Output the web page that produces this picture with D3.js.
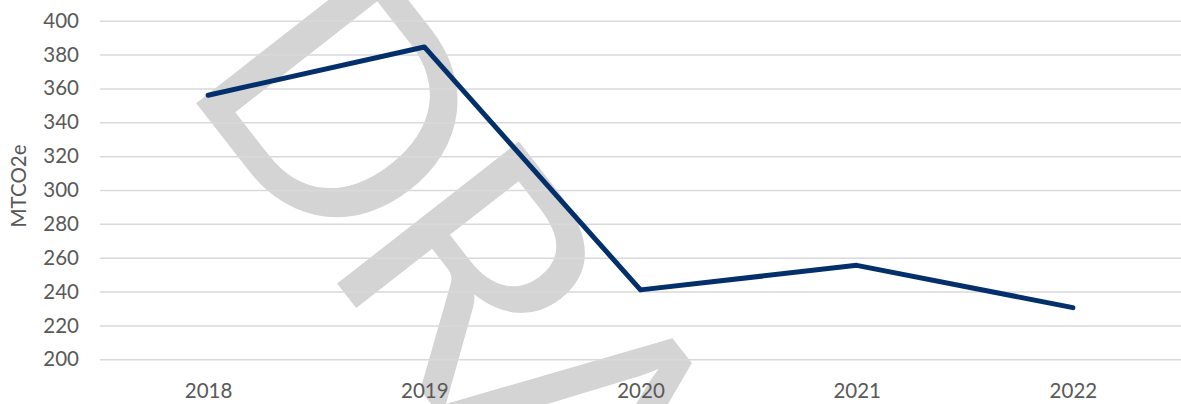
<!DOCTYPE html>
<html>
<head>
<meta charset="utf-8">
<script src="https://cdn.jsdelivr.net/npm/d3@7"></script>
<style>
  html, body { margin: 0; padding: 0; background: #ffffff; }
  svg { display: block; }
  text { font-family: Lato, "Open Sans", sans-serif; }
</style>
</head>
<body>
<svg id="chart" width="1181" height="404"></svg>
<script>
// Annual emissions, MTCO2e
const years = ["2018", "2019", "2020", "2021", "2022"];
const emissions = [356, 384.5, 241, 255.5, 230.5];
const yTicks = [200, 220, 240, 260, 280, 300, 320, 340, 360, 380, 400];
const yTitle = "MTCO2e";
const watermark = "DRAFT";

const W = 1181, H = 404;
const plot = { left: 100, right: 1181, top: 20.7, bottom: 359.3 };

const svg = d3.select("#chart");

const x = d3.scalePoint()
  .domain(years)
  .range([plot.left, plot.right])
  .padding(0.5);

const y = d3.scaleLinear()
  .domain([200, 400])
  .range([plot.bottom, plot.top]);

// Diagonal watermark behind the chart
svg.append("text")
  .attr("transform", "translate(178,80) rotate(52)")
  .attr("font-size", 322)
  .attr("letter-spacing", -16)
  .attr("fill", "#d4d4d4")
  .text(watermark);

// Horizontal gridlines
const yAxis = d3.axisLeft(y).tickValues(yTicks).tickSize(-(plot.right - plot.left)).tickPadding(21);
const gy = svg.append("g")
  .attr("transform", `translate(${plot.left},0)`)
  .call(yAxis);
gy.select(".domain").remove();
gy.selectAll(".tick line").attr("stroke", "#d9d9d9").attr("stroke-width", 1.5);
gy.selectAll(".tick text")
  .attr("fill", "#595959")
  .attr("font-size", 20.5)
  .attr("font-family", "Lato, sans-serif");

// Category labels
const xAxis = d3.axisBottom(x).tickSize(0).tickPadding(0);
const gx = svg.append("g")
  .attr("transform", `translate(0,${plot.bottom})`)
  .call(xAxis);
gx.select(".domain").remove();
gx.selectAll(".tick text")
  .attr("fill", "#595959")
  .attr("font-size", 20.5)
  .attr("font-family", "Lato, sans-serif")
  .attr("dy", null)
  .attr("y", 39);

// Axis title
svg.append("text")
  .attr("transform", `translate(26,${(plot.top + plot.bottom) / 2 - 4}) rotate(-90)`)
  .attr("text-anchor", "middle")
  .attr("fill", "#595959")
  .attr("font-size", 20.5)
  .text(yTitle);

// Emissions line
const line = d3.line()
  .x((d, i) => x(years[i]))
  .y(d => y(d));

svg.append("path")
  .datum(emissions)
  .attr("d", line)
  .attr("fill", "none")
  .attr("stroke", "#03306b")
  .attr("stroke-width", 5)
  .attr("stroke-linejoin", "round")
  .attr("stroke-linecap", "round");
</script>
</body>
</html>
